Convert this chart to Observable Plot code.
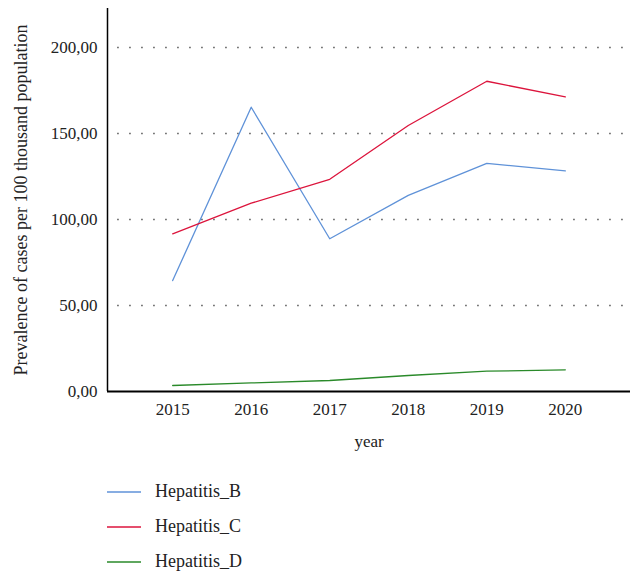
<!DOCTYPE html>
<html>
<head>
<meta charset="utf-8">
<script src="https://cdn.jsdelivr.net/npm/d3@7"></script>
<script src="https://cdn.jsdelivr.net/npm/@observablehq/plot@0.6"></script>
<style>
  body { margin: 0; background: #fff; font-family: "Liberation Serif", "DejaVu Serif", serif; }
  #legend { margin-left: 107px; margin-top: 14px; }
  .item { display: flex; align-items: center; height: 35px; font-size: 18px; color: #222; }
  .item svg { margin-right: 14px; }
  svg text { font-family: "Liberation Serif", serif; }
</style>
</head>
<body>
<div id="chart"></div>
<div id="legend"></div>
<script>
const years = [2015, 2016, 2017, 2018, 2019, 2020];
const seriesNames = ["Hepatitis_B", "Hepatitis_C", "Hepatitis_D"];
const hepB = [64.5, 165.3, 88.8, 114.0, 132.6, 128.3];
const hepC = [91.7, 109.5, 123.4, 154.7, 180.4, 171.3];
const hepD = [3.5, 5.0, 6.4, 9.3, 11.8, 12.6];
const yTicks = [0, 50, 100, 150, 200];
const colors = ["#5f92d8", "#dc143c", "#2a8a2a"];

const values = [hepB, hepC, hepD];
const data = [];
seriesNames.forEach((s, i) => years.forEach((y, j) => data.push({series: s, year: y, value: values[i][j]})));

const fmt = d3.formatLocale({decimal: ",", thousands: ".", grouping: [3], currency: ["", ""]}).format(".2f");

const chart = Plot.plot({
  width: 634,
  height: 460,
  marginLeft: 107,
  marginRight: 4,
  marginTop: 8,
  marginBottom: 69,
  style: {fontFamily: "Liberation Serif, serif", fontSize: "17px", color: "#222", background: "#fff"},
  x: {domain: [2014.17, 2020.83], ticks: years, tickFormat: "d", tickSize: 0, tickPadding: 11, label: "year", labelAnchor: "center", labelArrow: "none", labelOffset: 55},
  y: {domain: [0, 222.7], ticks: yTicks, tickFormat: fmt, tickSize: 0, tickPadding: 10, label: "Prevalence of cases per 100 thousand population", labelAnchor: "center", labelArrow: "none", labelOffset: 93},
  color: {domain: seriesNames, range: colors},
  marks: [
    Plot.ruleY(yTicks.filter(d => d > 0), {x1: 2014.3, x2: 2020.83, stroke: "#555", strokeWidth: 1.5, strokeDasharray: "1.5,10.5"}),
    Plot.line(data, {x: "year", y: "value", z: "series", stroke: "series", strokeWidth: 1.3}),
    Plot.ruleX([2014.17], {stroke: "#000", strokeWidth: 1.5}),
    Plot.ruleY([0], {stroke: "#000", strokeWidth: 2.2})
  ]
});
chart.querySelectorAll("[aria-label='y-axis label'] text").forEach(t => t.style.fontSize = "18px");
document.getElementById("chart").appendChild(chart);

const legend = document.getElementById("legend");
seriesNames.forEach((s, i) => {
  const div = document.createElement("div");
  div.className = "item";
  div.innerHTML = `<svg width="34" height="4"><line x1="0" x2="34" y1="2" y2="2" stroke="${colors[i]}" stroke-width="1.5"/></svg><span>${s}</span>`;
  legend.appendChild(div);
});
</script>
</body>
</html>
